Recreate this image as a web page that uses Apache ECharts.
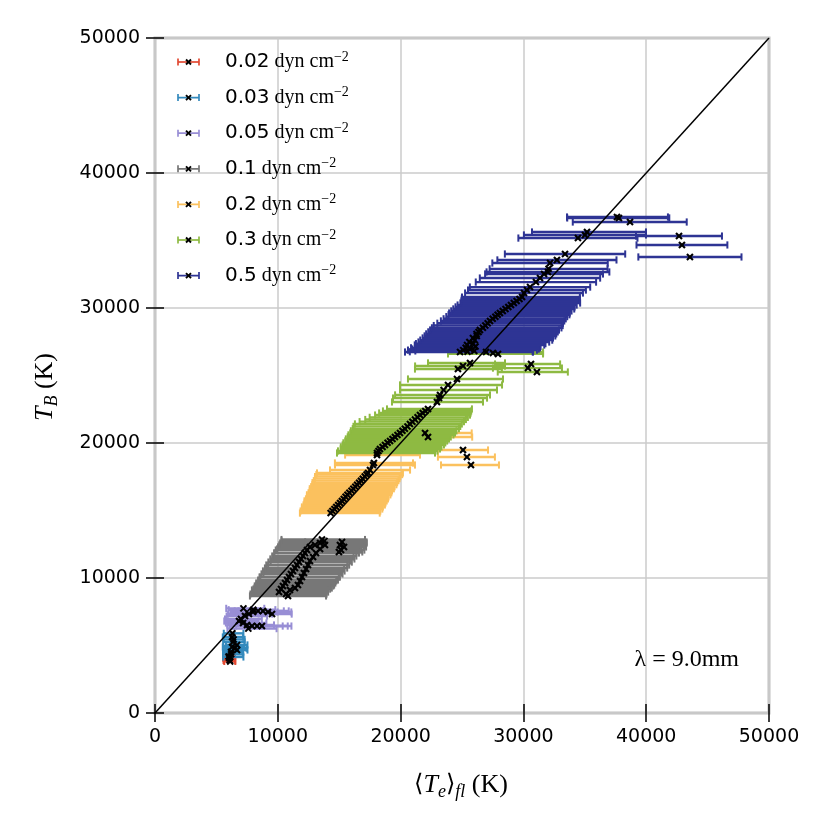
<!DOCTYPE html>
<html><head><meta charset="utf-8">
<script src="https://cdn.jsdelivr.net/npm/echarts@6/dist/echarts.min.js"></script>
<style>html,body{margin:0;padding:0;background:#fff}#c{width:831px;height:831px}</style>
</head><body><div id="c"></div>
<script>
// ---------- tick values ----------
const xTicks = [0, 10000, 20000, 30000, 40000, 50000];
const yTicks = [0, 10000, 20000, 30000, 40000, 50000];
// identity line T_B = <T_e>
const lineX = [0, 50000];
const lineY = [0, 50000];

// ---------- 0.02 dyn cm^-2 ----------
const te002 = [6030, 6080, 5990, 6120];
const tb002 = [4070, 3900, 4180, 3820];
const lo002 = [490, 500, 450, 480];
const hi002 = [480, 450, 500, 420];

// ---------- 0.03 dyn cm^-2 ----------
const te003 = [6300, 6270, 6350, 6400, 6680, 6270, 6500, 6680, 6190, 6200, 6100];
const tb003 = [5900, 5630, 5260, 5450, 5040, 4890, 4800, 4670, 4520, 4350, 4150];
const lo003 = [700, 750, 800, 800, 900, 750, 850, 900, 650, 650, 550];
const hi003 = [900, 900, 950, 900, 850, 1000, 950, 850, 1000, 950, 1100];

// ---------- 0.05 dyn cm^-2 ----------
const te005 = [6840, 7000, 7170, 7330, 7490, 7650, 7900, 7980, 8310, 8390, 8710, 8790, 9200, 9530, 7200, 7600, 8000];
const tb005 = [6810, 6960, 6670, 7180, 6520, 7330, 6440, 7480, 6440, 7560, 6440, 7560, 7480, 7330, 7750, 6250, 7650];
const lo005 = [1200, 1300, 1400, 1500, 1600, 1700, 1800, 1800, 2000, 1900, 2100, 2000, 2000, 2000, 1400, 1700, 2000];
const hi005 = [1600, 1700, 1900, 1800, 2200, 1900, 2500, 2000, 2500, 2100, 2400, 2100, 1900, 1600, 1700, 2300, 1800];

// ---------- 0.1 dyn cm^-2 ----------
const te01 = [10830, 10670, 10100, 10260, 10420, 10590, 10750, 10910, 11070, 11240, 11400, 11560, 11730, 11890, 12050, 12210, 12380, 12620, 13030, 13440, 13600, 13800,
  13840, 13440, 13110, 12870, 12620, 12460, 12300, 12130, 11970, 11810, 11640, 11400, 10990,
  15060, 15150, 15390, 14980, 15230];
const tb01 = [8670, 8810, 8960, 9180, 9410, 9630, 9850, 10070, 10300, 10520, 10740, 10960, 11180, 11410, 11630, 11850, 12070, 12300, 12440, 12590, 12850, 12750,
  12440, 12150, 11850, 11560, 11260, 10960, 10670, 10370, 10070, 9780, 9480, 9260, 9110,
  12440, 12070, 12300, 11930, 12670];
const lo01 = [3100, 2900, 2200, 2250, 2300, 2350, 2350, 2400, 2400, 2450, 2450, 2500, 2500, 2500, 2500, 2500, 2550, 2600, 2900, 3250, 3300, 3500,
  3700, 3500, 3400, 3300, 3200, 3250, 3300, 3300, 3400, 3400, 3400, 3300, 3100,
  3000, 3000, 3200, 3000, 3000];
const hi01 = [3100, 3300, 4000, 4000, 4100, 4100, 4150, 4150, 4200, 4200, 4250, 4250, 4300, 4350, 4350, 4400, 4400, 4400, 4100, 3800, 3500, 3300,
  3200, 3300, 3300, 3300, 3300, 3200, 3100, 3100, 3000, 2950, 2950, 3000, 3100,
  2100, 1900, 1800, 1900, 2000];

// ---------- 0.2 dyn cm^-2 ----------
const te02 = [14300, 14450, 14610, 14760, 14920, 15070, 15220, 15370, 15520, 15670, 15830, 16000, 16150, 16310, 16460, 16620, 16770, 16920, 17080, 17230, 17350,
  17510, 17750, 17830, 18080,
  25080, 25400, 25730,
  21990, 22230];
const tb02 = [14810, 14960, 15110, 15260, 15410, 15560, 15710, 15860, 16010, 16160, 16310, 16460, 16610, 16760, 16910, 17060, 17210, 17360, 17510, 17660, 17780,
  18000, 18370, 18520, 19110,
  19480, 18960, 18370,
  20740, 20440];
const lo02 = [2500, 2600, 2650, 2800, 2830, 2900, 3050, 3080, 3150, 3300, 3330, 3400, 3550, 3600, 3650, 3800, 3840, 3900, 4050, 4090, 4160,
  3260, 3090, 3180, 2600,
  2040, 2360, 2440,
  4000, 4300];
const hi02 = [4000, 3900, 3900, 3800, 3800, 3700, 3650, 3600, 3500, 3500, 3420, 3300, 3300, 3200, 3200, 3100, 3060, 3000, 2900, 2900, 2840,
  3260, 3420, 3180, 3500,
  2040, 2280, 2280,
  3800, 3600];

// ---------- 0.3 dyn cm^-2 ----------
const te03 = [18080, 18200, 18320, 18530, 18730, 18940, 19140, 19340, 19540, 19750, 19950, 20150, 20350, 20560, 20760, 20960, 21170, 21380, 21580, 21800, 22010, 22230,
  22960, 23130, 23210, 23500, 23860, 24590, 24670, 25080, 25650,
  30370, 30620, 31100,
  26960, 27520, 27930];
const tb03 = [19260, 19410, 19560, 19710, 19860, 20010, 20150, 20300, 20450, 20600, 20740, 20900, 21060, 21230, 21410, 21580, 21740, 21900, 22070, 22220, 22370, 22520,
  23040, 23330, 23560, 23930, 24300, 24740, 25480, 25700, 25930,
  25550, 25850, 25260,
  26740, 26670, 26600];
const lo03 = [3260, 3300, 3200, 3400, 3450, 3600, 3650, 3800, 3850, 4000, 4050, 4200, 4250, 4400, 4480, 4300, 4050, 3900, 3660, 3550, 3450, 3340,
  3660, 3750, 3660, 3550, 3910, 3990, 3500, 3900, 3420,
  2850, 2930, 3190,
  3100, 3660, 4070];
const hi03 = [4720, 4800, 4890, 4800, 4800, 4700, 4650, 4600, 4550, 4550, 4480, 4400, 4400, 4300, 4230, 4200, 4150, 4100, 4070, 3900, 3740, 3580,
  3750, 3910, 4070, 4350, 4400, 3750, 3580, 3420, 2850,
  2770, 2370, 2520,
  4640, 4080, 3670];

// ---------- 0.5 dyn cm^-2 ----------
const te05b = [24840, 25450, 26000, 25100, 25650, 25300, 26100, 25410, 25900, 25600, 26050, 25890, 26200, 26180, 26350, 26460, 26700, 26900, 27090, 27280, 27500, 27720, 27900, 28090, 28320, 28540, 28770, 28990, 29220, 29450, 29680, 29890,
  30050, 30290, 30540, 31020, 31350, 31680, 32000, 32050, 32170, 32730, 33390, 34440, 35010, 35180,
  37620, 37780, 38680, 42670, 42910, 43560];
const tb05b = [26740, 26760, 26820, 26880, 26960, 27050, 27150, 27260, 27360, 27480, 27620, 27780, 27930, 28080, 28230, 28370, 28530, 28700, 28870, 29040, 29200, 29360, 29500, 29630, 29780, 29930, 30080, 30220, 30370, 30520, 30670, 30810,
  31110, 31330, 31550, 31920, 32220, 32520, 32670, 32900, 33330, 33560, 34000, 35180, 35410, 35630,
  36740, 36670, 36370, 35330, 34670, 33780];
const lo05b = [4480, 4700, 4800, 4500, 4700, 4450, 4900, 4260, 4650, 4150, 4450, 4100, 4250, 4100, 4100, 4060, 4150, 4200, 4100, 4000, 4000, 4000, 4000, 4140, 4200, 4250, 4300, 4350, 4350, 4500, 4700, 4890,
  4800, 4800, 4900, 4900, 4900, 4800, 5000, 4800, 4700, 4850, 4900, 4850, 4970, 4480,
  4070, 4210, 4660, 3500, 3700, 4200];
const hi05b = [5940, 5300, 4800, 6000, 5600, 6050, 5300, 6290, 5900, 6500, 6300, 6520, 6400, 6500, 6450, 6440, 6400, 6300, 6130, 6050, 5950, 5850, 5850, 5690, 5600, 5600, 5400, 5350, 5400, 5150, 4920, 4710,
  4800, 4800, 4900, 4900, 4900, 4800, 5000, 4800, 4700, 4850, 4900, 4850, 4970, 4800,
  4150, 4100, 4620, 3500, 3700, 4200];

const groupNames = ['0.02', '0.03', '0.05', '0.1', '0.2', '0.3', '0.5'];
const groupColors = ['#e24a33', '#348abd', '#988ed5', '#777777', '#fbc15e', '#8eba42', '#2e3494'];
const groups = [
  [te002, tb002, lo002, hi002],
  [te003, tb003, lo003, hi003],
  [te005, tb005, lo005, hi005],
  [te01, tb01, lo01, hi01],
  [te02, tb02, lo02, hi02],
  [te03, tb03, lo03, hi03],
  [te05b, tb05b, lo05b, hi05b]
];

function rows(g) { return g[0].map((t, i) => [t, g[1][i], g[2][i], g[3][i]]); }

function barItem(params, api) {
  const x = api.value(0), y = api.value(1), lo = api.value(2), hi = api.value(3);
  const a = api.coord([x - lo, y]), b = api.coord([x + hi, y]);
  const c = api.visual('color');
  const h = 3.6, w = 2.4;
  return { type: 'group', children: [
    { type: 'line', shape: { x1: a[0], y1: a[1], x2: b[0], y2: b[1] }, style: { stroke: c, lineWidth: w } },
    { type: 'line', shape: { x1: a[0], y1: a[1] - h, x2: a[0], y2: a[1] + h }, style: { stroke: c, lineWidth: 2 } },
    { type: 'line', shape: { x1: b[0], y1: b[1] - h, x2: b[0], y2: b[1] + h }, style: { stroke: c, lineWidth: 2 } }
  ] };
}
function markItem(params, api) {
  const p = api.coord([api.value(0), api.value(1)]);
  const s = 3;
  return { type: 'group', children: [
    { type: 'line', shape: { x1: p[0] - s, y1: p[1] - s, x2: p[0] + s, y2: p[1] + s }, style: { stroke: '#000', lineWidth: 2.1 } },
    { type: 'line', shape: { x1: p[0] - s, y1: p[1] + s, x2: p[0] + s, y2: p[1] - s }, style: { stroke: '#000', lineWidth: 2.1 } }
  ] };
}
function legendIcon(c) {
  const svg = '<svg xmlns="http://www.w3.org/2000/svg" width="43" height="10" viewBox="0 0 43 10">' +
    '<g stroke="' + c + '" stroke-width="1.7"><line x1="1" y1="5" x2="22" y2="5"/><line x1="1" y1="1.5" x2="1" y2="8.5"/><line x1="22" y1="1.5" x2="22" y2="8.5"/></g>' +
    '<g stroke="#000" stroke-width="1.9"><line x1="9" y1="2.5" x2="14" y2="7.5"/><line x1="9" y1="7.5" x2="14" y2="2.5"/></g></svg>';
  return 'image://data:image/svg+xml;charset=utf-8,' + encodeURIComponent(svg);
}

const barSeries = groups.map((g, k) => ({
  type: 'custom', name: groupNames[k], renderItem: barItem, data: rows(g),
  encode: { x: 0, y: 1 }, itemStyle: { color: groupColors[k] }, z: 2, silent: true
}));
const markSeries = groups.map((g, k) => ({
  type: 'custom', name: groupNames[k], renderItem: markItem, data: rows(g),
  encode: { x: 0, y: 1 }, itemStyle: { color: groupColors[k] }, z: 4, silent: true
}));
const idLine = {
  type: 'line', name: 'identity', data: lineX.map((v, i) => [v, lineY[i]]), symbol: 'none',
  lineStyle: { color: '#000', width: 1.5 }, z: 3, silent: true
};

const tickStyle = { inside: true, length: 9, lineStyle: { color: '#000', width: 1.5 } };
const labelFont = { fontFamily: 'DejaVu Sans', fontSize: 19, color: '#000', formatter: v => String(v) };

const chart = echarts.init(document.getElementById('c'), null, { renderer: 'canvas' });
chart.setOption({
  animation: false,
  backgroundColor: '#fff',
  grid: { left: 155, top: 38, width: 614, height: 675, show: true, borderColor: '#bfbfbf', borderWidth: 3, backgroundColor: 'transparent' },
  xAxis: [
    { type: 'value', min: xTicks[0], max: xTicks[xTicks.length - 1], interval: xTicks[1] - xTicks[0], position: 'bottom',
      axisLine: { show: false }, axisTick: tickStyle, axisLabel: Object.assign({ margin: 15 }, labelFont),
      splitLine: { show: true, lineStyle: { color: '#cbcbcb', width: 1.5 } } },
    { type: 'value', min: xTicks[0], max: xTicks[xTicks.length - 1], interval: xTicks[1] - xTicks[0], position: 'top',
      axisLine: { show: false }, axisTick: tickStyle, axisLabel: { show: false }, splitLine: { show: false } }
  ],
  yAxis: [
    { type: 'value', min: yTicks[0], max: yTicks[yTicks.length - 1], interval: yTicks[1] - yTicks[0], position: 'left',
      axisLine: { show: false }, axisTick: tickStyle, axisLabel: Object.assign({ margin: 15 }, labelFont),
      splitLine: { show: true, lineStyle: { color: '#cbcbcb', width: 1.5 } } },
    { type: 'value', min: yTicks[0], max: yTicks[yTicks.length - 1], interval: yTicks[1] - yTicks[0], position: 'right',
      axisLine: { show: false }, axisTick: tickStyle, axisLabel: { show: false }, splitLine: { show: false } }
  ],
  legend: {
    orient: 'vertical', left: 177, top: 50, padding: 0, itemGap: 13.6,
    itemWidth: 43, itemHeight: 10, selectedMode: false,
    data: groupNames.map((n, k) => ({ name: n, icon: legendIcon(groupColors[k]) })),
    formatter: n => '{n|' + n + '}{u| dyn cm}{s|\u22122}',
    textStyle: {
      rich: {
        n: { fontFamily: 'DejaVu Sans', fontSize: 20, color: '#000', lineHeight: 24, verticalAlign: 'middle' },
        u: { fontFamily: 'Liberation Serif', fontSize: 20, color: '#000', lineHeight: 24, verticalAlign: 'middle' },
        s: { fontFamily: 'Liberation Serif', fontSize: 14, color: '#000', lineHeight: 14, verticalAlign: 'top' }
      }
    }
  },
  graphic: [
    { type: 'text', x: 461, y: 785, z: 10, silent: true,
      style: { text: '{b|\u27e8}{i|T}{sub|e}{b|\u27e9}{sub|fl}{r| (K)}', align: 'center', verticalAlign: 'middle',
        rich: {
          b: { fontFamily: 'DejaVu Serif', fontSize: 24, lineHeight: 32, verticalAlign: 'middle', fill: '#000' },
          i: { fontFamily: 'Liberation Serif', fontStyle: 'italic', fontSize: 26, lineHeight: 32, verticalAlign: 'middle', fill: '#000' },
          sub: { fontFamily: 'Liberation Serif', fontStyle: 'italic', fontSize: 18, lineHeight: 18, verticalAlign: 'bottom', fill: '#000' },
          r: { fontFamily: 'Liberation Serif', fontSize: 26, lineHeight: 32, verticalAlign: 'middle', fill: '#000' }
        } } },
    { type: 'text', x: 45, y: 387, rotation: Math.PI / 2, z: 10, silent: true,
      style: { text: '{i|T}{sub|B}{r| (K)}', align: 'center', verticalAlign: 'middle',
        rich: {
          i: { fontFamily: 'Liberation Serif', fontStyle: 'italic', fontSize: 26, lineHeight: 32, verticalAlign: 'middle', fill: '#000' },
          sub: { fontFamily: 'Liberation Serif', fontStyle: 'italic', fontSize: 18, lineHeight: 18, verticalAlign: 'bottom', fill: '#000' },
          r: { fontFamily: 'Liberation Serif', fontSize: 26, lineHeight: 32, verticalAlign: 'middle', fill: '#000' }
        } } },
    { type: 'text', x: 739, y: 660, z: 10, silent: true,
      style: { text: '\u03bb = 9.0mm', align: 'right', verticalAlign: 'middle', fontFamily: 'Liberation Serif', fontSize: 24, fill: '#000' } }
  ],
  series: barSeries.concat([idLine], markSeries)
});
</script>
</body></html>
